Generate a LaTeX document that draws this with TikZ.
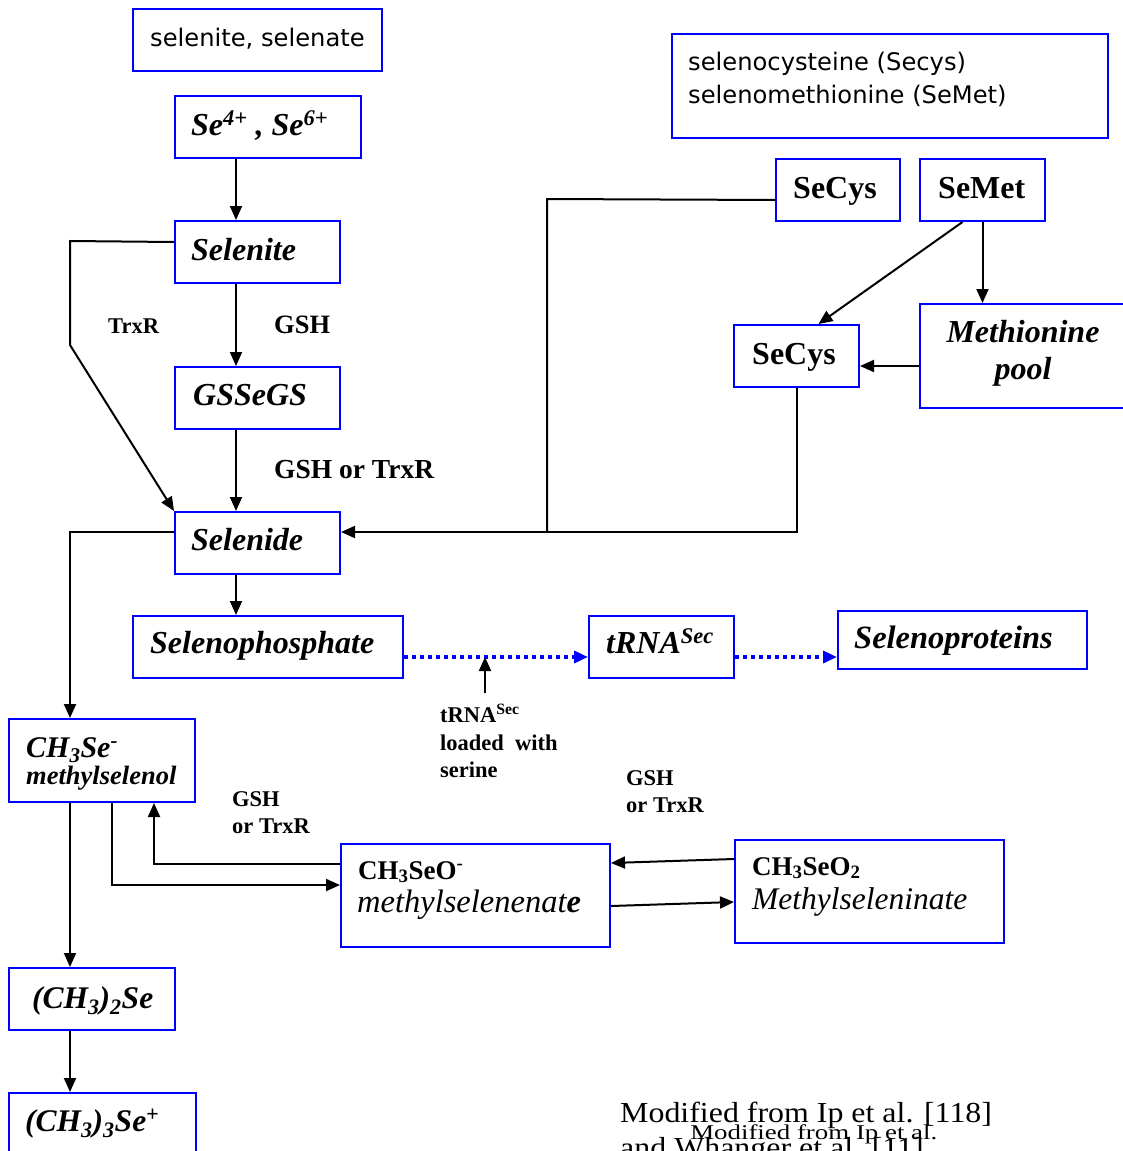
\documentclass[tikz,border=0pt]{standalone}
\usepackage{fontspec}
\setmainfont{Liberation Serif}
\newfontfamily\vsans{DejaVu Sans}
\usetikzlibrary{arrows.meta}
\newcommand\fsz[1]{\fontsize{#1}{#1}\selectfont}
\begin{document}
\begin{tikzpicture}[x=1pt,y=-1pt,
  box/.style={draw=blue, line width=2pt, fill=white, inner sep=0pt, anchor=north west},
  ln/.style={line width=2pt},
  arr/.style={line width=2pt, -{Triangle[length=14pt,width=12pt]}},
  dotarr/.style={draw=blue, line width=4pt, dash pattern=on 4pt off 4pt, -{Triangle[length=14pt,width=12pt,fill=blue]}},
  txt/.style={anchor=base west, inner sep=0pt},
  sans/.style={txt, font=\vsans\fsz{24.2}},
  bi/.style={txt, font=\fsz{32}\bfseries\itshape},
  bd/.style={txt, font=\fsz{32}\bfseries},
  lab/.style={txt, font=\fsz{22.5}\bfseries},
]
\useasboundingbox (0,0) rectangle (1123,1151);
\clip (0,0) rectangle (1123,1151);
\fill[white] (0,0) rectangle (1123,1151);

% helper x positions
\coordinate (xa) at (236,0);
\coordinate (xb) at (70,0);

% boxes
\node[box, minimum width=249pt, minimum height=62pt] (b1) at (132,8) {};
\node[box, minimum width=186pt, minimum height=62pt] (se46) at (174,95) {};
\node[box, minimum width=165pt, minimum height=62pt] (selenite) at (174,220) {};
\node[box, minimum width=165pt, minimum height=62pt] (gssegs) at (174,366) {};
\node[box, minimum width=165pt, minimum height=62pt] (selenide) at (174,511) {};
\node[box, minimum width=270pt, minimum height=62pt] (sephos) at (132,615) {};
\node[box, minimum width=145pt, minimum height=62pt] (trna) at (588,615) {};
\node[box, minimum width=249pt, minimum height=58pt] (seprot) at (837,610) {};
\node[box, minimum width=436pt, minimum height=104pt] (b2) at (671,33) {};
\node[box, minimum width=124pt, minimum height=62pt] (secys1) at (775,158) {};
\node[box, minimum width=125pt, minimum height=62pt] (semet) at (919,158) {};
\node[box, minimum width=125pt, minimum height=62pt] (secys2) at (733,324) {};
\node[box, minimum width=220pt, minimum height=104pt] (metpool) at (919,303) {};
\node[box, minimum width=186pt, minimum height=83pt] (mselenol) at (8,718) {};
\node[box, minimum width=269pt, minimum height=103pt] (ch3seo) at (340,843) {};
\node[box, minimum width=269pt, minimum height=103pt] (ch3seo2) at (734,839) {};
\node[box, minimum width=166pt, minimum height=62pt] (dimethyl) at (8,967) {};
\node[box, minimum width=187pt, minimum height=80pt] (trimethyl) at (8,1092) {};

% texts in boxes
\node[sans] (t1) at (150,46) {selenite, selenate};
\node[bi] (t2) at (191,135) {Se\textsuperscript{4+} , Se\textsuperscript{6+}};
\node[bi] (t3) at (191,260) {Selenite};
\node[bi] (t4) at (193,405) {GSSeGS};
\node[bi] (t5) at (191,550) {Selenide};
\node[bi] (t6) at (150,653) {Selenophosphate};
\node[bi] (t7) at (606,653) {tRNA\textsuperscript{Sec}};
\node[txt, font=\fsz{32.5}\bfseries\itshape] (t8) at (854,648) {Selenoproteins};
\node[sans] (t9) at (688,70) {selenocysteine (Secys)};
\node[sans] (t10) at (688,103) {selenomethionine (SeMet)};
\node[bd] (t11) at (793,198) {SeCys};
\node[bd] (t12) at (938,198) {SeMet};
\node[bd] (t13) at (752,364) {SeCys};
\node[bi, anchor=base] (t14) at (1023,342) {Methionine};
\node[bi, anchor=base] (t15) at (1023,379) {pool};
\node[txt, font=\fsz{30}\bfseries\itshape] (t16) at (26,757) {CH\textsubscript{3}Se\textsuperscript{-}};
\node[txt, font=\fsz{26.5}\bfseries\itshape] (t17) at (26,784) {methylselenol};
\node[txt, font=\fsz{27}\bfseries] (t18) at (358,879) {CH\textsubscript{3}SeO\textsuperscript{-}};
\node[txt, font=\fsz{32.5}\itshape] (t19) at (357,912) {methylselenenat\textbf{e}};
\node[txt, font=\fsz{27}\bfseries] (t20) at (752,875) {CH\textsubscript{3}SeO\textsubscript{2}};
\node[txt, font=\fsz{31.5}\itshape] (t21) at (752,909) {Methylseleninate};
\node[txt, font=\fsz{31.5}\bfseries\itshape] (t22) at (32,1008) {(CH\textsubscript{3})\textsubscript{2}Se};
\node[txt, font=\fsz{31.5}\bfseries\itshape] (t23) at (25,1131) {(CH\textsubscript{3})\textsubscript{3}Se\textsuperscript{+}};

% labels
\node[lab] (l1) at (108,333) {TrxR};
\node[txt, font=\fsz{26.5}\bfseries] (l2) at (274,333) {GSH};
\node[txt, font=\fsz{27.5}\bfseries] (l3) at (274,478) {GSH or TrxR};
\node[lab] (l4) at (440,722) {tRNA\textsuperscript{Sec}};
\node[lab] (l5) at (440,750) {loaded\ \ with};
\node[lab] (l6) at (440,777) {serine};
\node[lab] (l7) at (232,806) {GSH};
\node[lab] (l8) at (232,833) {or TrxR};
\node[lab] (l9) at (626,785) {GSH};
\node[lab] (l10) at (626,812) {or TrxR};

\node[txt, font=\fsz{29}, xscale=1.1] (c1) at (620,1122) {Modified from Ip et al. [118]};
\node[txt, font=\fsz{29}, xscale=1.1] (c2) at (620,1157) {and Whanger et al. [11]};
\node[txt, font=\fsz{21}, xscale=1.28] (c3) at (690,1139) {Modified from Ip et al.};

% connectors
\draw[arr] (se46.south -| xa) -- (selenite.north -| xa);
\draw[arr] (selenite.south -| xa) -- (gssegs.north -| xa);
\draw[arr] (gssegs.south -| xa) -- (selenide.north -| xa);
\draw[arr] (selenide.south -| xa) -- (sephos.north -| xa);
\draw[arr] ([yshift=10pt]selenite.west) -- (70,241) -- (70,345) -- (selenide.north west);
\draw[ln] ([yshift=-10pt]secys1.west) -- (547,199) -- (547,531);
\draw[arr] (secys2.south) |- ([yshift=11pt]selenide.east);
\draw[arr] ([xshift=-20pt]semet.south) -- ([xshift=22pt]secys2.north);
\draw[arr] (semet.south) -- (metpool.north -| semet.south);
\draw[arr] ([yshift=-10pt]metpool.west) -- ([yshift=-10pt]secys2.east);
\draw[arr] ([yshift=11pt]selenide.west) -| (mselenol.north -| xb);
\draw[dotarr] ([yshift=-10pt]sephos.east) -- ([yshift=-10pt]trna.west);
\draw[dotarr] ([yshift=-10pt]trna.east) -- ([yshift=-10pt]trna.east -| seprot.west);
\coordinate (ld) at (485,693);
\coordinate (lt) at (485,657);
\draw[arr] (ld) -- (lt);
\draw[arr] (mselenol.south -| xb) -- (dimethyl.north -| xb);
\draw[arr] (dimethyl.south -| xb) -- (trimethyl.north -| xb);
\draw[arr] ([xshift=10pt]mselenol.south) |- ([yshift=10.5pt]ch3seo.west);
\draw[arr] ([yshift=32pt]ch3seo.west) -| ([xshift=52pt]mselenol.south);
\draw[arr] ([yshift=32.5pt]ch3seo2.west) -- ([yshift=32.5pt]ch3seo.east);
\draw[arr] ([yshift=-10.5pt]ch3seo.east) -- ([yshift=-10.5pt]ch3seo2.west);
\end{tikzpicture}
\end{document}
